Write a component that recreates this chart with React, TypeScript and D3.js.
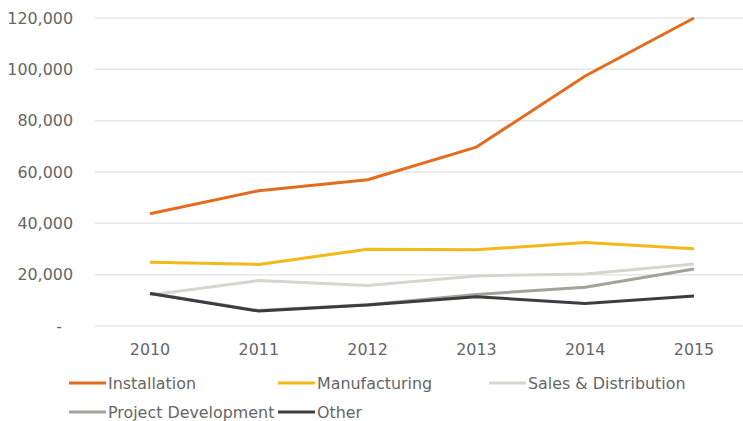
import React from "react";
import * as d3 from "d3";

const years = ["2010", "2011", "2012", "2013", "2014", "2015"];
const installation = [43700, 52700, 57000, 69700, 97400, 120000];
const manufacturing = [24800, 24000, 29900, 29700, 32500, 30100];
const salesDistribution = [12100, 17700, 15800, 19500, 20300, 24200];
const projectDevelopment = [12800, 6000, 8300, 12300, 15100, 22200];
const other = [12700, 5800, 8200, 11400, 8800, 11700];
const yTicks = [0, 20000, 40000, 60000, 80000, 100000, 120000];

const seriesNames = ["Installation", "Manufacturing", "Sales & Distribution", "Project Development", "Other"];
const seriesData = [installation, manufacturing, salesDistribution, projectDevelopment, other];
const colors = ["#E36C1E", "#F5B81A", "#D6D6CE", "#A3A39B", "#3D3D3D"];
const drawOrder = [2, 3, 4, 1, 0];

const W = 743;
const H = 421;
const FONT = "'DejaVu Sans', Verdana, sans-serif";
const FS = 15.9;

export default function App() {
  const x = d3.scaleBand<string>().domain(years).range([95.6, 748.4]);
  const y = d3.scaleLinear().domain([0, 120000]).range([326, 18]);
  const cx = (yr: string) => (x(yr) as number) + x.bandwidth() / 2;
  const line = d3
    .line<number>()
    .x((_, i) => cx(years[i]))
    .y((v) => y(v));
  const fmt = d3.format(",");

  const legendItems = [
    { i: 0, x: 69, y: 383 },
    { i: 1, x: 278, y: 383 },
    { i: 2, x: 489, y: 383 },
    { i: 3, x: 69, y: 412 },
    { i: 4, x: 278, y: 412 },
  ];

  return (
    <svg
      width={W}
      height={H}
      style={{ position: "absolute", left: 0, top: 0, background: "#fff" }}
      fontFamily={FONT}
    >
      <rect width={W} height={H} fill="#fff" />
      {yTicks.map((t) => (
        <g key={t}>
          <line x1={95} x2={W} y1={y(t)} y2={y(t)} stroke="#E6E6E6" strokeWidth={1.5} />
          <text
            x={t === 0 ? 62 : 73}
            y={y(t)}
            dy="0.35em"
            textAnchor="end"
            fontSize={FS}
            fill="#666"
          >
            {t === 0 ? "-" : fmt(t)}
          </text>
        </g>
      ))}
      {years.map((yr) => (
        <text key={yr} x={cx(yr)} y={349} dy="0.35em" textAnchor="middle" fontSize={FS} fill="#666">
          {yr}
        </text>
      ))}
      {drawOrder.map((i) => (
        <path
          key={seriesNames[i]}
          d={line(seriesData[i]) || ""}
          fill="none"
          stroke={colors[i]}
          strokeWidth={3}
          strokeLinejoin="round"
        />
      ))}
      {legendItems.map((it) => (
        <g key={seriesNames[it.i]}>
          <line x1={it.x} x2={it.x + 37} y1={it.y} y2={it.y} stroke={colors[it.i]} strokeWidth={3} />
          <text x={it.x + 39} y={it.y} dy="0.35em" fontSize={FS} fill="#666">
            {seriesNames[it.i]}
          </text>
        </g>
      ))}
    </svg>
  );
}
